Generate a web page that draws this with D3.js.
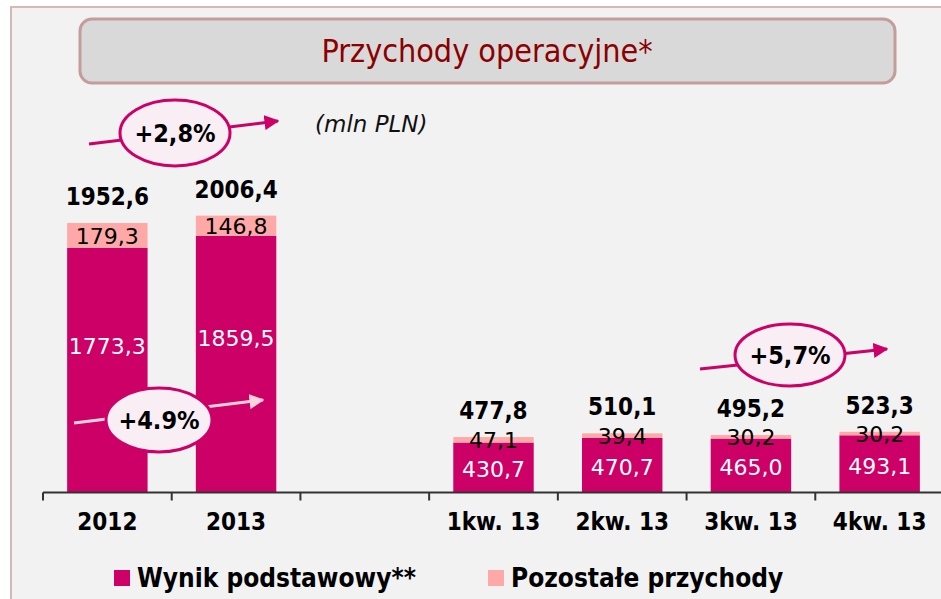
<!DOCTYPE html>
<html>
<head>
<meta charset="utf-8">
<script src="https://d3js.org/d3.v7.min.js"></script>
<style>
    body { margin: 0; background: #ffffff; }
    svg text { font-family: "DejaVu Sans Condensed", "DejaVu Sans", sans-serif; font-stretch: condensed; }
    svg text.wide { font-family: "DejaVu Sans", sans-serif; font-stretch: normal; }
</style>
</head>
<body>
<div id="chart"></div>
<script>
// data
var categories = ["2012", "2013", "", "1kw. 13", "2kw. 13", "3kw. 13", "4kw. 13"];
var wynik      = [1773.3, 1859.5, null, 430.7, 470.7, 465.0, 493.1];
var pozostale  = [179.3, 146.8, null, 47.1, 39.4, 30.2, 30.2];
var totalLabels = ["1952,6", "2006,4", "", "477,8", "510,1", "495,2", "523,3"];
var wynikLabels = ["1773,3", "1859,5", "", "430,7", "470,7", "465,0", "493,1"];
var pozLabels   = ["179,3", "146,8", "", "47,1", "39,4", "30,2", "30,2"];
var seriesNames = ["Wynik podstawowy**", "Pozostałe przychody"];
var growthLabels = ["+2,8%", "+4.9%", "+5,7%"];

var width = 941, height = 599;
var magenta = "#cc0066", pink = "#ffa8a8";

var svg = d3.select("#chart").append("svg")
    .attr("width", width)
    .attr("height", height);

// background frame
svg.append("rect")
    .attr("x", 11).attr("y", 7)
    .attr("width", 960).attr("height", 620)
    .attr("fill", "#f2f2f2")
    .attr("stroke", "#d6b8b8")
    .attr("stroke-width", 2);

// title box
svg.append("rect")
    .attr("x", 80).attr("y", 19)
    .attr("width", 815).attr("height", 64)
    .attr("rx", 12)
    .attr("fill", "#d9d9d9")
    .attr("stroke", "#c49c9c")
    .attr("stroke-width", 3);
svg.append("text")
    .attr("x", 487).attr("y", 62)
    .attr("text-anchor", "middle")
    .attr("fill", "#8b0000")
    .style("font-size", "32px")
    .text("Przychody operacyjne*");

svg.append("text")
    .attr("class", "wide")
    .attr("x", 315).attr("y", 132)
    .style("font-size", "23px")
    .style("font-style", "italic")
    .attr("fill", "#111")
    .text("(mln PLN)");

// scales: yearly and quarterly bars use their own scale
var baseY = 492.5;
var x = d3.scaleBand().domain(categories).range([43, 944]);
var yYear = d3.scaleLinear().domain([0, 2000]).range([baseY, baseY - 276]);
var yQuarter = d3.scaleLinear().domain([0, 500]).range([baseY, baseY - 58]);
function yFor(i) { return i < 2 ? yYear : yQuarter; }

var barW = x.bandwidth() * 0.625;
var barOff = (x.bandwidth() - barW) / 2;

var idx = d3.range(categories.length).filter(function(i) { return wynik[i] != null; });

var bars = svg.append("g");
// main segment
bars.selectAll(".main")
    .data(idx).enter().append("rect")
    .attr("x", function(i) { return x(categories[i]) + barOff; })
    .attr("y", function(i) { return yFor(i)(wynik[i]); })
    .attr("width", barW)
    .attr("height", function(i) { return baseY - yFor(i)(wynik[i]); })
    .attr("fill", magenta);
// other income segment
bars.selectAll(".poz")
    .data(idx).enter().append("rect")
    .attr("x", function(i) { return x(categories[i]) + barOff; })
    .attr("y", function(i) { return yFor(i)(wynik[i] + pozostale[i]); })
    .attr("width", barW)
    .attr("height", function(i) { return yFor(i)(wynik[i]) - yFor(i)(wynik[i] + pozostale[i]); })
    .attr("fill", pink);

var labels = svg.append("g").attr("text-anchor", "middle");
labels.selectAll(".wl")
    .data(idx).enter().append("text")
    .attr("class", "wide")
    .attr("x", function(i) { return x(categories[i]) + x.bandwidth() / 2; })
    .attr("y", function(i) { return yFor(i)(wynik[i] * (i < 2 ? 0.6 : 0.47)); })
    .attr("dy", "0.36em")
    .attr("fill", "#ffffff")
    .style("font-size", "22px")
    .text(function(i) { return wynikLabels[i]; });
labels.selectAll(".pl")
    .data(idx).enter().append("text")
    .attr("class", "wide")
    .attr("x", function(i) { return x(categories[i]) + x.bandwidth() / 2; })
    .attr("y", function(i) { return yFor(i)(wynik[i] + pozostale[i] / 2); })
    .attr("dy", "0.38em")
    .attr("fill", "#000")
    .style("font-size", "22px")
    .text(function(i) { return pozLabels[i]; });
labels.selectAll(".tl")
    .data(idx).enter().append("text")
    .attr("x", function(i) { return x(categories[i]) + x.bandwidth() / 2; })
    .attr("y", function(i) { return yFor(i)(wynik[i] + pozostale[i]) - 18; })
    .attr("fill", "#000")
    .style("font-size", "24px")
    .style("font-weight", "bold")
    .text(function(i) { return totalLabels[i]; });

// x axis
var axis = svg.append("g")
    .attr("transform", "translate(0," + baseY + ")")
    .call(d3.axisBottom(x).tickSize(0).tickPadding(20));
axis.select(".domain").remove();
axis.selectAll("text")
    .attr("fill", "#000")
    .style("font-size", "24px")
    .style("font-weight", "bold")
    .style("font-family", "\"DejaVu Sans Condensed\", \"DejaVu Sans\", sans-serif");
axis.append("line")
    .attr("x1", 43).attr("x2", width)
    .attr("stroke", "#333").attr("stroke-width", 2);
axis.selectAll(".bound")
    .data(categories).enter().append("line")
    .attr("x1", function(d) { return x(d); })
    .attr("x2", function(d) { return x(d); })
    .attr("y1", 0).attr("y2", 8)
    .attr("stroke", "#333").attr("stroke-width", 2);

// growth annotations
var defs = svg.append("defs");
[["arrowM", magenta], ["arrowP", "#ffd3da"]].forEach(function(m) {
    defs.append("marker")
        .attr("id", m[0])
        .attr("viewBox", "0 0 10 10")
        .attr("refX", 9).attr("refY", 5)
        .attr("markerWidth", 5).attr("markerHeight", 5)
        .attr("markerUnits", "strokeWidth")
        .attr("orient", "auto")
        .append("path")
        .attr("d", "M0,0L10,5L0,10Z")
        .attr("fill", m[1]);
});

var notes = [
    {label: growthLabels[0], x1: 89, y1: 144, x2: 278, y2: 121, cx: 175, cy: 133, rx: 55, ry: 33, line: magenta, marker: "arrowM"},
    {label: growthLabels[1], x1: 74, y1: 423, x2: 263, y2: 400, cx: 159, cy: 420, rx: 53, ry: 32, line: "#ffd3da", marker: "arrowP"},
    {label: growthLabels[2], x1: 700, y1: 369, x2: 887, y2: 349, cx: 790, cy: 355, rx: 55, ry: 31, line: magenta, marker: "arrowM"}
];
var note = svg.append("g").selectAll("g").data(notes).enter().append("g");
note.append("line")
    .attr("x1", function(d) { return d.x1; }).attr("y1", function(d) { return d.y1; })
    .attr("x2", function(d) { return d.x2; }).attr("y2", function(d) { return d.y2; })
    .attr("stroke", function(d) { return d.line; })
    .attr("stroke-width", 3)
    .attr("marker-end", function(d) { return "url(#" + d.marker + ")"; });
note.append("ellipse")
    .attr("cx", function(d) { return d.cx; }).attr("cy", function(d) { return d.cy; })
    .attr("rx", function(d) { return d.rx; }).attr("ry", function(d) { return d.ry; })
    .attr("fill", "#f9eef3")
    .attr("stroke", magenta)
    .attr("stroke-width", 3);
note.append("text")
    .attr("x", function(d) { return d.cx; }).attr("y", function(d) { return d.cy; })
    .attr("dy", "0.36em")
    .attr("text-anchor", "middle")
    .attr("fill", "#000")
    .style("font-size", "25px")
    .style("font-weight", "bold")
    .text(function(d) { return d.label; });

// legend
var legend = svg.append("g").selectAll("g")
    .data(seriesNames).enter().append("g")
    .attr("transform", function(d, i) { return "translate(" + (i === 0 ? 114 : 488) + ",570)"; });
legend.append("rect")
    .attr("width", 16).attr("height", 16)
    .attr("fill", function(d, i) { return i === 0 ? magenta : pink; });
legend.append("text")
    .attr("x", 23).attr("y", 17)
    .attr("fill", "#000")
    .style("font-size", "26px")
    .style("font-weight", "bold")
    .text(function(d) { return d; });
</script>
</body>
</html>
